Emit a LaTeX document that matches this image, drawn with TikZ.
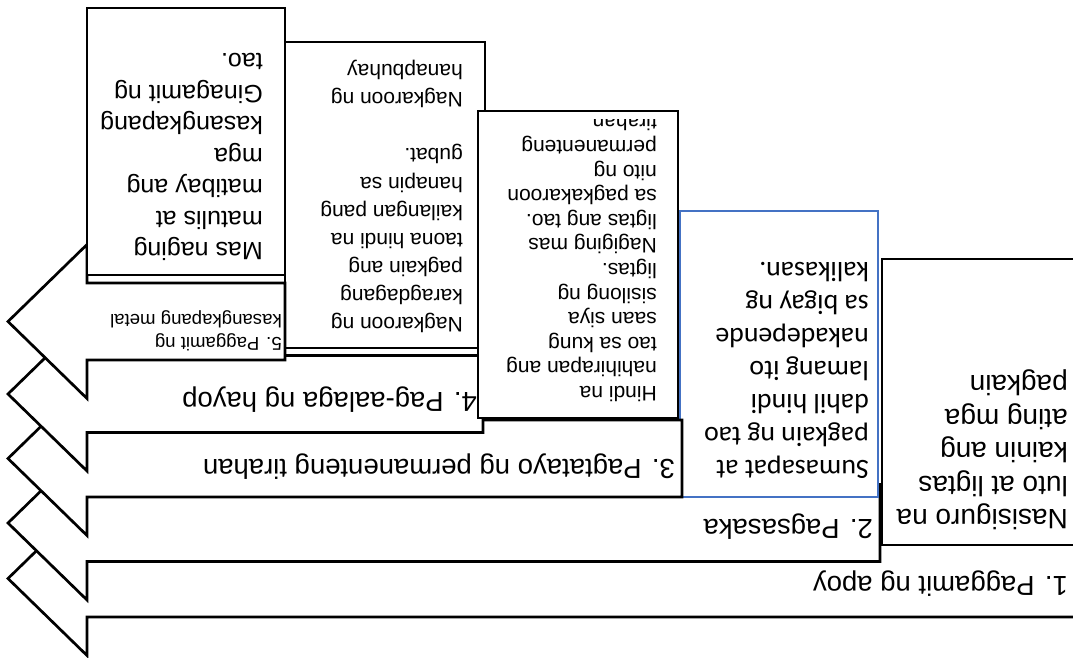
\documentclass[tikz,border=0pt]{standalone}
\usepackage{fontspec}
\setmainfont{Liberation Sans}
\newfontfamily\calibfont{Carlito}
\definecolor{boxblue}{HTML}{4472C4}
\newcommand{\mkarrow}[2]{%
  \draw[shp] ({#2},{#1-38.5}) -- (87,{#1-38.5}) -- (87,{#1-77}) -- (8,{#1})
    -- (87,{#1+77}) -- (87,{#1+38.5}) -- ({#2},{#1+38.5}) -- cycle;}
\begin{document}
\begin{tikzpicture}[x=1pt,y=-1pt,
  shp/.style={draw=black, line width=2.7pt, fill=white, line join=miter},
  bluebox/.style={draw=boxblue, line width=2pt, fill=white},
  txt/.style={rotate=180, inner sep=0pt, align=left, anchor=north west},
  lbl/.style={rotate=180, inner sep=0pt, anchor=base west, font=\fontsize{27.5}{33}\selectfont}]
\useasboundingbox (0,0) rectangle (1073,657);
\clip (0,0) rectangle (1073,657);

% step 1
\mkarrow{578.5}{1090}
\draw[shp] (882,259) rectangle (1095,545);
% step 2
\mkarrow{523}{880}
\draw[bluebox] (680,211) rectangle (878,497);
% step 3
\mkarrow{458.5}{682}
% step 4
\mkarrow{394}{483}
\draw[shp] (285,42) rectangle (485,348);
\draw[shp] (478,111) rectangle (678,418);
% step 5
\mkarrow{321.5}{285}
\draw[shp] (87,8) rectangle (285,275);

% labels
\node[lbl] (l1) at (1068,576) {1. Paggamit ng apoy};
\node[lbl] (l2) at (873,519) {2. Pagsasaka};
\node[lbl] (l3) at (675,459) {3. Pagtatayo ng permanenteng tirahan};
\node[lbl] (l4) at (477,392) {4. Pag-aalaga ng hayop};
\node[txt, font=\fontsize{18.6}{23}\selectfont] (l5) at (282,351)
  {5. Paggamit ng\\kasangkapang metal};

% descriptions
\node[txt, font=\fontsize{28}{33.5}\selectfont] (d1) at (1068,530)
  {Nasisiguro na\\luto at ligtas\\kainin ang\\ating mga\\pagkain};
\node[txt, font=\calibfont\fontsize{27.8}{33}\selectfont] (d2) at (869,479)
  {Sumasapat at\\pagkain ng tao\\dahil hindi\\lamang ito\\nakadepende\\sa bigay ng\\kalikasan.};
\begin{scope}
\clip (478,119) rectangle (678,418);
\node[txt, font=\fontsize{21}{24.6}\selectfont] (d3) at (657,402)
  {Hindi na\\nahihirapan ang\\tao sa kung\\saan siya\\sisilong ng\\ligtas.\\Nagiging mas\\ligtas ang tao.\\sa pagkakaroon\\nito ng\\permanenteng\\tirahan};
\end{scope}
\node[txt, font=\fontsize{21}{28.1}\selectfont] (d4) at (463,333)
  {Nagkaroon ng\\karagdagang\\pagkain ang\\taona hindi na\\kailangan pang\\hanapin sa\\gubat.\\\mbox{}\\Nagkaroon ng\\hanapbuhay};
\node[txt, font=\fontsize{25}{31.5}\selectfont] (d5) at (263,261)
  {Mas naging\\matulis at\\matibay ang\\mga\\kasangkapang\\Ginagamit ng\\tao.};
\end{tikzpicture}
\end{document}
